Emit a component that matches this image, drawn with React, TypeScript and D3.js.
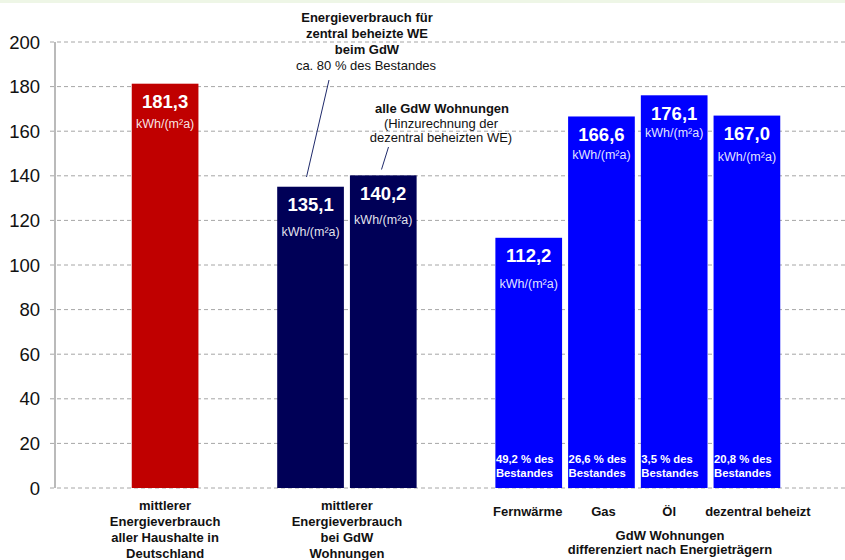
import React from "react";
import * as d3 from "d3";

const slotKeys = ["s0", "de", "s2", "gdwZentral", "gdwAlle", "s5", "fern", "gas", "oel", "dez", "s10"];
const barKeys = ["de", "gdwZentral", "gdwAlle", "fern", "gas", "oel", "dez"];
const values = [181.3, 135.1, 140.2, 112.2, 166.6, 176.1, 167.0];
const barColors = ["#C00000", "#000057", "#000057", "#0000FF", "#0000FF", "#0000FF", "#0000FF"];
const unitLabel = "kWh/(m²a)";
const unitOffsets = [44, 49, 49, 50, 43, 42, 45];
const shareKeys = ["fern", "gas", "oel", "dez"];
const shares = [49.2, 26.6, 3.5, 20.8];
const carrierKeys = ["fern", "gas", "oel", "dez"];
const carrierLabels = ["Fernwärme", "Gas", "Öl", "dezentral beheizt"];
const carrierDx = [-1, 2, -5, 11];
const yTicks = [0, 20, 40, 60, 80, 100, 120, 140, 160, 180, 200];
const groupLabelDE = ["mittlerer", "Energieverbrauch", "aller Haushalte in", "Deutschland"];
const groupLabelGdW = ["mittlerer", "Energieverbrauch", "bei GdW", "Wohnungen"];
const groupLabelCarrier = ["GdW Wohnungen", "differenziert nach Energieträgern"];
const note1Bold = ["Energieverbrauch für", "zentral beheizte WE", "beim GdW"];
const note1Normal = "ca. 80 % des Bestandes";
const note2Bold = "alle GdW Wohnungen";
const note2Normal = ["(Hinzurechnung der", "dezentral beheizten WE)"];

const W = 845;
const H = 560;
const FONT = "Arial, 'Liberation Sans', Helvetica, sans-serif";

const locale = d3.formatLocale({ decimal: ",", thousands: ".", grouping: [3], currency: ["", " €"] });
const fmt1 = locale.format(".1f");
const fmtShare = (v: number) => locale.format(",")(v);

export default function App() {
  const y = d3.scaleLinear().domain([0, 200]).range([488, 42]);
  const x = d3.scaleBand<string>().domain(slotKeys).range([56, 856]).paddingInner(0.083).paddingOuter(0.0415);
  const bw = x.bandwidth();
  const cx = (k: string) => (x(k) as number) + bw / 2;
  const axisX = 55;

  const deCenter = cx("de");
  const gdwCenter = ((x("gdwZentral") as number) + (x("gdwAlle") as number) + bw) / 2;

  return (
    <svg
      width={W}
      height={H}
      style={{ position: "absolute", left: 0, top: 0, background: "#fff" }}
      fontFamily={FONT}
    >
      <rect x={0} y={0} width={W} height={3} fill="#eef6e6" />
      {/* gridlines */}
      {yTicks.map((t) => (
        <g key={t}>
          <line x1={50} x2={W} y1={y(t)} y2={y(t)} stroke="#a6a6a6" strokeWidth={1} strokeDasharray="4,3" />
          <text x={40} y={y(t) + 6.5} textAnchor="end" fontSize={18.5} fill="#111">
            {t}
          </text>
        </g>
      ))}
      <line x1={axisX} x2={axisX} y1={y(200)} y2={y(0)} stroke="#8c8c8c" strokeWidth={1.2} />

      {/* bars */}
      {barKeys.map((k, i) => {
        const x0 = x(k) as number;
        const top = y(values[i]);
        return (
          <g key={k}>
            <rect x={x0} y={top} width={bw} height={y(0) - top} fill={barColors[i]} />
            <text x={x0 + bw / 2} y={top + 24.5} textAnchor="middle" fontSize={18.5} fontWeight="bold" fill="#fff">
              {fmt1(values[i])}
            </text>
            <text x={x0 + bw / 2} y={top + unitOffsets[i]} textAnchor="middle" fontSize={12.5} fill="#fff" fillOpacity={0.9}>
              {unitLabel}
            </text>
          </g>
        );
      })}

      {/* share labels */}
      {shareKeys.map((k, i) => {
        const x0 = (x(k) as number) + 0.5;
        return (
          <text key={k} x={x0} fontSize={11.3} fontWeight="bold" fill="#fff">
            <tspan x={x0} y={463}>{`${fmtShare(shares[i])} % des`}</tspan>
            <tspan x={x0} y={477}>Bestandes</tspan>
          </text>
        );
      })}

      {/* carrier labels */}
      {carrierKeys.map((k, i) => (
        <text key={k} x={cx(k) + carrierDx[i]} y={516} textAnchor="middle" fontSize={13} fontWeight="bold" fill="#111">
          {carrierLabels[i]}
        </text>
      ))}
      <text textAnchor="middle" fontSize={13} fontWeight="bold" fill="#111">
        {groupLabelCarrier.map((s, i) => (
          <tspan key={i} x={670} y={540 + i * 14}>{s}</tspan>
        ))}
      </text>

      {/* group labels */}
      <text textAnchor="middle" fontSize={13} fontWeight="bold" fill="#111">
        {groupLabelDE.map((s, i) => (
          <tspan key={i} x={deCenter} y={510 + i * 16}>{s}</tspan>
        ))}
      </text>
      <text textAnchor="middle" fontSize={13} fontWeight="bold" fill="#111">
        {groupLabelGdW.map((s, i) => (
          <tspan key={i} x={gdwCenter} y={510 + i * 16}>{s}</tspan>
        ))}
      </text>

      {/* annotation 1 */}
      <text textAnchor="middle" fontSize={13} fill="#111">
        {note1Bold.map((s, i) => (
          <tspan key={i} x={367} y={22 + i * 16} fontWeight="bold">{s}</tspan>
        ))}
        <tspan x={366} y={70}>{note1Normal}</tspan>
      </text>
      <line x1={329} y1={80} x2={306.5} y2={177} stroke="#1f2a6b" strokeWidth={1} />

      {/* annotation 2 */}
      <text textAnchor="middle" fontSize={13} fill="#111">
        <tspan x={442} y={113} fontWeight="bold">{note2Bold}</tspan>
        {note2Normal.map((s, i) => (
          <tspan key={i} x={441} y={128 + i * 14}>{s}</tspan>
        ))}
      </text>
      <line x1={388.5} y1={147} x2={381.5} y2={169.5} stroke="#1f2a6b" strokeWidth={1} />
    </svg>
  );
}
